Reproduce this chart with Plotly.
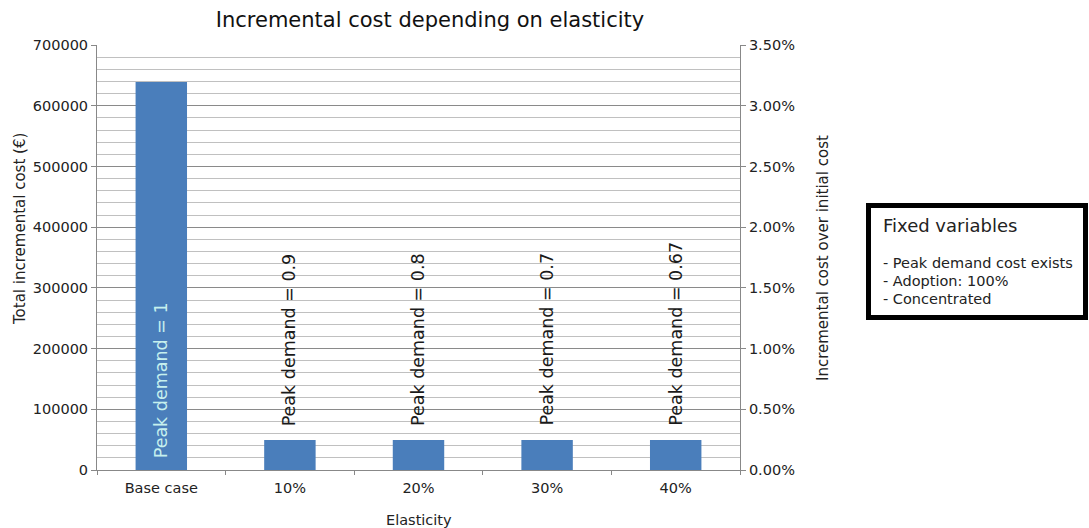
import plotly.graph_objects as go

categories = ["Base case", "10%", "20%", "30%", "40%"]
incremental_cost = [639000, 49500, 49500, 49500, 49500]
bar_labels = ["Peak demand = 1", "Peak demand = 0.9", "Peak demand = 0.8",
              "Peak demand = 0.7", "Peak demand = 0.67"]
label_inside = [True, False, False, False, False]
legend_title = "Fixed variables"
legend_items = ["- Peak demand cost exists", "- Adoption: 100%", "- Concentrated"]

FONT = "DejaVu Sans"
TXT = "#222"

# plot-area geometry (pixels)
L, R, T, B = 97, 740, 45, 470
W, H = 1089, 528

fig = go.Figure()
fig.add_trace(go.Bar(
    x=categories, y=incremental_cost, width=0.4,
    marker=dict(color="#4a7ebb", line=dict(width=0)),
    showlegend=False, hoverinfo="skip",
))
fig.add_trace(go.Scatter(x=[categories[0]], y=[None], yaxis="y2",
                         showlegend=False, hoverinfo="skip"))

fig.update_layout(
    width=W, height=H,
    margin=dict(l=L, r=W - R, t=T, b=H - B),
    paper_bgcolor="white", plot_bgcolor="white",
    font=dict(family=FONT, size=14.5, color=TXT),
    title=dict(text="Incremental cost depending on elasticity",
               x=430 / W, xanchor="center", y=1 - 20 / H, yanchor="middle",
               font=dict(family=FONT, size=21, color="#111")),
    xaxis=dict(
        type="category", showline=True, linecolor="#888", linewidth=1,
        ticks="outside", tickson="boundaries", ticklen=4, tickcolor="#888",
        showgrid=False, tickfont=dict(size=14.5, color=TXT),
        ticklabelstandoff=5,
    ),
    yaxis=dict(
        range=[0, 700000], dtick=100000, tickformat="d",
        showline=True, linecolor="#888", linewidth=1,
        ticks="outside", ticklen=5, tickcolor="#888",
        showgrid=True, gridcolor="#8a8a8a", gridwidth=1,
        minor=dict(dtick=20000, showgrid=True, gridcolor="#c0c0c0", gridwidth=1, ticks=""),
        zeroline=False, tickfont=dict(size=14.5, color=TXT),
    ),
    yaxis2=dict(
        overlaying="y", side="right", range=[0, 0.035], dtick=0.005, tickformat=".2%",
        showline=True, linecolor="#888", linewidth=1,
        ticks="outside", ticklen=5, tickcolor="#888",
        showgrid=False, zeroline=False, tickfont=dict(size=14.5, color=TXT),
    ),
    bargap=0.6,
)

pw, ph = float(R - L), float(B - T)
def px_x(x): return (x - L) / pw
def px_y(y): return (B - y) / ph

# axis titles
fig.add_annotation(text="Elasticity", xref="paper", yref="paper",
                   x=px_x(419), y=px_y(520), xanchor="center", yanchor="middle",
                   showarrow=False, font=dict(family=FONT, size=14.5, color=TXT))
fig.add_annotation(text="Total incremental cost (€)", xref="paper", yref="paper",
                   x=px_x(20), y=px_y(229), xanchor="center", yanchor="middle", textangle=-90,
                   showarrow=False, font=dict(family=FONT, size=15, color=TXT))
fig.add_annotation(text="Incremental cost over initial cost", xref="paper", yref="paper",
                   x=px_x(823), y=px_y(258), xanchor="center", yanchor="middle", textangle=-90,
                   showarrow=False, font=dict(family=FONT, size=15, color=TXT))

# bar labels
for cat, val, lab, inside in zip(categories, incremental_cost, bar_labels, label_inside):
    fig.add_annotation(
        text=lab, x=cat, y=0 if inside else val, xref="x", yref="y",
        xanchor="center", yanchor="bottom", yshift=10 if inside else 12,
        textangle=-90, showarrow=False,
        font=dict(family=FONT, size=17.5, color="#c6f0ee" if inside else "#1a1a1a"),
    )

# fixed-variables box
fig.add_shape(type="rect", xref="paper", yref="paper",
              x0=px_x(868.5), x1=px_x(1085.5), y0=px_y(317.5), y1=px_y(205.5),
              line=dict(color="black", width=5), fillcolor="white")
fig.add_annotation(text=legend_title, xref="paper", yref="paper",
                   x=px_x(881), y=px_y(225), xanchor="left", yanchor="middle",
                   showarrow=False, font=dict(family=FONT, size=18, color=TXT))
for i, item in enumerate(legend_items):
    fig.add_annotation(text=item, xref="paper", yref="paper",
                       x=px_x(881), y=px_y(263 + 18 * i), xanchor="left", yanchor="middle",
                       showarrow=False, font=dict(family=FONT, size=14.5, color=TXT))

fig.write_html("out.html")
